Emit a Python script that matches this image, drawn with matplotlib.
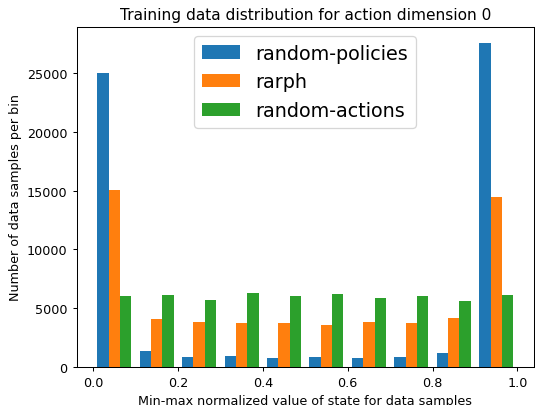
import numpy as np
import matplotlib
matplotlib.use("Agg")
import matplotlib.pyplot as plt

# histogram counts per bin (10 bins over [0, 1])
bin_edges = np.linspace(0.0, 1.0, 11)
random_policies = [24950, 1385, 875, 960, 790, 875, 790, 875, 1215, 27540]
rarph = [15030, 4095, 3840, 3785, 3785, 3615, 3815, 3785, 4180, 14410]
random_actions = [6045, 6130, 5740, 6270, 6045, 6215, 5875, 6045, 5650, 6130]
labels = ["random-policies", "rarph", "random-actions"]

centers = 0.5 * (bin_edges[:-1] + bin_edges[1:])

dpi = 92
fig, ax = plt.subplots(figsize=(535 / dpi, 406 / dpi), dpi=dpi)
fig.subplots_adjust(left=0.143, right=0.998, top=0.932, bottom=0.093)
ax.hist([centers, centers, centers], bins=bin_edges,
        weights=[random_policies, rarph, random_actions], label=labels)
ax.set_title("Training data distribution for action dimension 0")
ax.set_xlabel("Min-max normalized value of state for data samples")
ax.set_ylabel("Number of data samples per bin")
ax.legend(fontsize=15, loc="upper center")
fig.savefig("out.png", dpi=dpi)
